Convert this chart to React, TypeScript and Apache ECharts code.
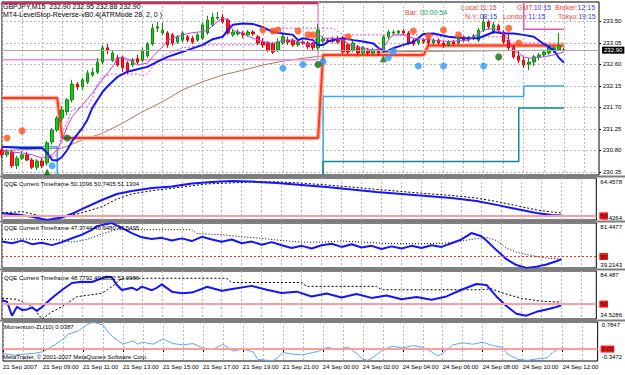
import React, { useEffect, useRef } from "react";
import * as echarts from "echarts";

const FONT = "'Liberation Sans', Arial, Helvetica, sans-serif";

// ---------- axis texts ----------
const xTickLabels = [
  "21 Sep 2007", "21 Sep 09:00", "21 Sep 11:00", "21 Sep 13:00", "21 Sep 15:00",
  "21 Sep 17:00", "21 Sep 19:00", "21 Sep 21:00", "24 Sep 00:00", "24 Sep 02:00",
  "24 Sep 04:00", "24 Sep 06:00", "24 Sep 08:00", "24 Sep 10:00", "24 Sep 12:00",
];
const priceTicks = [230.35, 230.8, 231.25, 231.7, 232.15, 232.6, 233.05, 233.5];
const priceTickLabels = ["230.35", "230.80", "231.25", "231.70", "232.15", "232.60", "233.05", "233.50"];
const currentPrice = 232.9;

// sub-window scales [min, max]
const qqe1Scale = [48.4264, 64.4578];
const qqe2Scale = [39.2143, 81.4477];
const qqe3Scale = [34.5286, 84.487];
const momScale = [-0.3472, 0.7847];

// ---------- categories (15-minute bars, plus empty right shift) ----------
const SLOTS = 120;
const categories: string[] = [];
for (let i = 0; i < SLOTS; i++) {
  const day = i < 64 ? 21 : 24;
  const mins = i < 64 ? 7 * 60 + i * 15 : (i - 64) * 15;
  const hh = String(Math.floor(mins / 60) % 24).padStart(2, "0");
  const mm = String(mins % 60).padStart(2, "0");
  categories.push(`${day} Sep ${hh}:${mm}`);
}

// ---------- GBPJPY M15 candles ----------
const opens = [
  230.81, 230.71, 230.77, 230.48, 230.64, 230.71, 230.60, 230.45, 230.58, 230.54,
  230.98, 231.23, 231.48, 231.61, 231.86, 232.19, 232.13, 232.23, 232.38, 232.44,
  232.65, 232.95, 232.69, 232.74, 232.74, 232.63, 232.59, 232.72, 232.69, 232.78,
  233.03, 233.36, 233.26, 233.26, 233.22, 233.07, 233.11, 233.18, 233.15, 233.11,
  233.15, 233.26, 233.43, 233.57, 233.59, 233.53, 233.22, 233.24, 233.26, 233.22,
  233.28, 233.18, 233.07, 233.05, 233.03, 232.90, 233.05, 233.11, 233.11, 233.01,
  233.07, 233.05, 233.05, 232.95, 233.09, 233.11, 233.13, 233.15, 233.15, 233.01,
  232.90, 232.97, 232.84, 232.90, 232.84, 232.88, 232.88, 233.18, 233.26, 233.26,
  233.30, 233.26, 233.11, 233.05, 233.11, 233.15, 233.05, 233.11, 233.05, 233.01,
  233.07, 233.05, 233.15, 233.11, 233.15, 233.11, 233.32, 233.49, 233.28, 233.41,
  233.28, 233.11, 232.97, 232.78, 232.69, 232.61, 232.65, 232.76, 232.80, 232.84,
  232.90, 232.90, 232.90,
];
const closes = [
  230.71, 230.77, 230.48, 230.64, 230.71, 230.60, 230.45, 230.58, 230.48, 230.96,
  231.23, 231.48, 231.65, 231.86, 232.19, 232.13, 232.28, 232.42, 232.44, 232.65,
  232.95, 232.90, 232.84, 232.59, 232.53, 232.48, 232.69, 232.65, 232.90, 233.03,
  233.36, 233.39, 233.32, 233.01, 233.05, 233.18, 233.26, 233.11, 233.07, 233.22,
  233.43, 233.53, 233.59, 233.59, 233.49, 233.26, 233.28, 233.28, 233.22, 233.28,
  233.24, 233.05, 233.01, 232.90, 232.86, 233.07, 233.18, 233.07, 233.01, 233.07,
  233.05, 232.97, 232.95, 233.32, 233.13, 233.10, 233.09, 233.07, 232.86, 232.86,
  233.05, 232.84, 232.95, 232.84, 232.90, 232.84, 233.18, 233.28, 233.28, 233.30,
  233.26, 233.05, 233.03, 233.11, 233.07, 233.05, 233.11, 233.05, 233.01, 233.07,
  233.03, 233.15, 233.11, 233.15, 233.20, 233.32, 233.49, 233.39, 233.43, 233.32,
  233.07, 232.95, 232.76, 232.69, 232.59, 232.65, 232.76, 232.80, 232.86, 232.97,
  232.95, 232.99, 232.90,
];
const lows = [
  230.64, 230.66, 230.43, 230.41, 230.60, 230.58, 230.41, 230.39, 230.43, 230.48,
  230.92, 231.19, 231.40, 231.54, 231.81, 232.07, 232.07, 232.19, 232.34, 232.40,
  232.61, 232.82, 232.65, 232.55, 232.44, 232.40, 232.55, 232.61, 232.65, 232.74,
  232.99, 233.28, 233.22, 232.95, 232.99, 233.03, 233.07, 233.07, 233.03, 233.07,
  233.11, 233.22, 233.39, 233.53, 233.45, 233.22, 233.18, 233.20, 233.15, 233.18,
  233.20, 233.01, 232.95, 232.86, 232.82, 232.86, 233.01, 233.01, 232.97, 232.97,
  233.01, 232.92, 232.90, 232.90, 233.05, 233.07, 233.05, 233.03, 232.82, 232.82,
  232.86, 232.80, 232.80, 232.80, 232.80, 232.78, 232.84, 233.13, 233.22, 233.24,
  233.22, 233.01, 232.99, 233.01, 233.03, 232.99, 233.01, 233.01, 232.95, 232.97,
  232.99, 233.01, 233.07, 233.07, 233.11, 233.07, 233.28, 233.34, 233.24, 233.28,
  233.03, 232.90, 232.72, 232.63, 232.53, 232.48, 232.57, 232.69, 232.76, 232.80,
  232.84, 232.88, 232.88,
];
const highs = [
  230.87, 230.83, 230.81, 230.69, 230.79, 230.77, 230.64, 230.62, 230.64, 231.00,
  231.27, 231.52, 231.73, 231.90, 232.28, 232.23, 232.32, 232.48, 232.53, 232.74,
  233.01, 233.03, 232.90, 232.80, 232.78, 232.67, 232.74, 232.80, 232.95, 233.07,
  233.45, 233.49, 233.47, 233.30, 233.26, 233.22, 233.30, 233.22, 233.20, 233.26,
  233.47, 233.62, 233.68, 233.70, 233.66, 233.57, 233.32, 233.34, 233.30, 233.32,
  233.32, 233.22, 233.15, 233.09, 233.07, 233.15, 233.26, 233.18, 233.15, 233.11,
  233.11, 233.09, 233.07, 233.45, 233.20, 233.15, 233.18, 233.20, 233.20, 233.05,
  233.09, 233.01, 232.99, 232.95, 232.95, 232.92, 233.22, 233.32, 233.32, 233.32,
  233.34, 233.30, 233.15, 233.15, 233.15, 233.20, 233.15, 233.15, 233.09, 233.11,
  233.11, 233.20, 233.20, 233.20, 233.24, 233.36, 233.64, 233.53, 233.49, 233.45,
  233.32, 233.26, 233.01, 232.90, 232.76, 232.74, 232.80, 232.84, 232.90, 233.01,
  232.99, 233.26, 232.95,
];

// ---------- main-window indicator lines [bar, price] ----------
const maBlue = [
  [0, 230.88], [4, 230.85], [8, 230.85], [9, 230.75], [10, 230.6], [11, 230.59], [12, 230.67],
  [13, 230.81], [14, 231.0], [16, 231.27], [17, 231.44], [18, 231.69], [20, 232.02], [21, 232.14],
  [23, 232.34], [25, 232.45], [27, 232.5], [29, 232.55], [31, 232.66], [33, 232.76], [35, 232.83],
  [37, 232.9], [40, 233.01], [42, 233.13], [44, 233.18], [45, 233.32], [46, 233.43], [48, 233.46],
  [50, 233.45], [52, 233.38], [54, 233.28], [56, 233.25], [58, 233.22], [59, 233.11], [60, 233.15],
  [62, 233.11], [63, 233.01], [64, 233.01], [65, 233.08], [66, 233.11], [68, 233.15], [70, 233.11],
  [72, 233.08], [74, 233.04], [75, 232.95], [76, 232.88], [77, 232.89], [78, 232.94], [80, 233.01],
  [82, 233.07], [84, 233.24], [86, 233.25], [89, 233.18], [92, 233.15], [95, 233.15], [98, 233.28],
  [100, 233.25], [102, 233.25], [104, 233.22], [106, 233.18], [108, 233.03], [110, 232.9],
  [111, 232.74], [112, 232.64],
];
const maViolet = [
  [0, 230.78], [4, 230.75], [6, 230.71], [8, 230.64], [10, 230.71], [11, 230.81], [12, 231.02],
  [13, 231.3], [14, 231.51], [16, 231.75], [18, 232.0], [20, 232.28], [22, 232.55], [23, 232.73],
  [24, 232.76], [26, 232.66], [27, 232.59], [29, 232.63], [30, 232.76], [32, 232.97], [33, 233.11],
  [34, 233.15], [37, 233.25], [40, 233.29], [41, 233.32], [43, 233.5], [44, 233.57], [45, 233.53],
  [46, 233.32], [48, 233.25], [50, 233.15], [52, 233.08], [54, 233.04], [56, 233.11], [58, 233.11],
  [60, 233.04], [62, 233.01], [63, 233.25], [64, 233.15], [66, 233.15], [68, 233.11], [70, 232.97],
  [72, 232.94], [74, 232.9], [76, 232.94], [77, 233.11], [78, 233.22], [80, 233.22], [82, 233.15],
  [86, 233.11], [89, 233.08], [93, 233.11], [96, 233.32], [98, 233.36], [100, 233.25], [101, 233.11],
  [102, 232.9], [104, 232.76], [105, 232.73], [108, 232.76], [110, 232.8], [112, 232.86],
];
const maBrown = [
  [0, 230.8], [12, 230.85], [16, 231.02], [20, 231.16], [24, 231.37], [28, 231.61], [32, 231.82],
  [36, 232.07], [40, 232.24], [44, 232.38], [48, 232.48], [52, 232.59], [56, 232.67], [60, 232.73],
  [64, 232.78], [68, 232.81], [72, 232.83], [76, 232.85], [80, 232.87], [90, 232.88], [100, 232.89],
  [112, 232.9],
];
const bandLower = [
  [9, 230.64], [11, 230.71], [12, 231.17], [14, 231.65], [17, 231.72], [18, 231.88], [19, 232.19],
  [20, 232.34], [22, 232.4], [27, 232.4], [28, 232.36], [29, 232.4], [30, 232.55], [32, 232.76],
  [33, 232.83], [36, 232.95], [41, 233.01], [55, 233.01],
];
const bandUpper = [
  [55, 233.36], [66, 233.36], [68, 233.22], [84, 233.22], [88, 233.18], [100, 233.18],
  [101, 233.05], [112, 233.05],
];
const levelStop = [
  [0, 231.9], [11, 231.9], [12, 231.06], [63, 231.06], [64, 232.8], [84, 232.8], [85, 233.0], [112, 233.0],
];
const upperStopLeft = [[0, 233.88], [63, 233.88]];
const upperStopRight = [[104, 233.95], [104, 233.34], [112, 233.34]];
const pinkLevel = [[0, 232.7], [63, 232.7], [63, 233.95]];
const cyanLeft = [[0, 230.88], [11, 230.88], [11, 230.1]];
const cyanRight = [[64, 230.1], [64, 231.93], [104, 231.93], [104, 232.15], [112, 232.15]];
const tealRight = [[64, 230.1], [64, 230.57], [103, 230.57], [103, 231.69], [112, 231.69]];

// signals [bar, price]
const sellDots = [
  [1, 231.06], [4, 231.21], [52, 233.32], [54, 233.3], [55, 233.32], [59, 233.3], [61, 233.22],
  [62, 233.22], [69, 233.18], [82, 233.3], [85, 233.2], [88, 233.32], [91, 233.22], [101, 233.36],
  [103, 233.05],
];
const buyDots = [
  [10, 230.48], [56, 232.52], [60, 232.6], [64, 232.66], [77, 232.74], [78, 232.87], [83, 232.57],
  [88, 232.57], [96, 232.57],
];
const greenCircles = [[13, 231.06], [63, 232.6], [99, 232.76]];
const greenArrows = [[9, 230.35], [76, 232.72]];

// ---------- sub windows [bar, value] ----------
const qqe1Fast = [
  [0, 51.0], [3, 50.5], [6, 49.7], [9, 48.43], [12, 49.4], [14, 50.8], [16, 52.6], [20, 56.06],
  [23, 58.35], [26, 59.5], [30, 60.6], [34, 61.2], [38, 62.36], [42, 62.93], [46, 63.31], [50, 63.12],
  [55, 62.55], [60, 61.8], [65, 61.0], [70, 60.07], [75, 59.1], [80, 58.35], [85, 57.6], [90, 56.8],
  [95, 55.7], [99, 54.2], [103, 52.6], [107, 51.1], [110, 50.3], [112, 50.11],
];
const qqe1Slow = [
  [0, 51.2], [4, 51.6], [8, 49.9], [11, 49.6], [14, 50.3], [16, 51.2], [20, 53.5], [23, 56.4],
  [26, 58.35], [30, 59.6], [33, 60.3], [36, 61.0], [41, 62.2], [46, 62.6], [50, 62.9], [55, 63.0],
  [60, 62.5], [65, 61.8], [70, 61.0], [75, 60.1], [80, 59.3], [85, 58.5], [90, 57.8], [95, 56.8],
  [99, 55.5], [103, 53.9], [107, 52.3], [110, 51.5], [112, 51.13],
];
const qqe2Fast = [
  [0, 64.0], [2, 62.5], [4, 64.9], [6, 61.6], [8, 63.0], [10, 60.7], [12, 63.5], [14, 67.1], [16, 70.5],
  [18, 75.0], [19, 78.5], [21, 80.5], [22, 81.4], [24, 76.9], [26, 72.0], [28, 68.0], [30, 66.5],
  [32, 67.5], [34, 65.0], [36, 67.0], [38, 64.5], [40, 68.5], [42, 66.0], [44, 63.8], [46, 66.0],
  [48, 62.5], [50, 64.0], [52, 61.0], [54, 63.5], [56, 60.5], [58, 58.0], [60, 60.0], [62, 57.5],
  [64, 60.5], [66, 62.0], [68, 59.0], [70, 61.5], [72, 58.5], [74, 60.0], [76, 57.0], [78, 59.5],
  [80, 57.5], [82, 60.0], [84, 58.0], [86, 60.5], [88, 59.0], [90, 62.5], [92, 66.0], [94, 72.0],
  [96, 69.0], [97, 65.0], [99, 56.0], [101, 47.5], [103, 42.0], [105, 39.3], [107, 40.5], [109, 42.5],
  [111, 45.5], [112, 47.37],
];
const qqe2Slow = [
  [0, 66.0], [4, 66.5], [8, 66.0], [12, 65.5], [14, 63.5], [17, 66.0], [20, 71.0], [23, 75.5],
  [26, 75.2], [38, 75.2], [39, 71.5], [44, 70.5], [48, 68.5], [52, 67.0], [56, 65.0], [60, 63.5],
  [64, 63.5], [68, 64.5], [72, 63.5], [76, 62.5], [80, 62.0], [84, 62.0], [88, 62.5], [90, 63.0],
  [94, 66.0], [97, 68.0], [99, 65.0], [101, 58.0], [103, 54.0], [106, 51.0], [109, 48.5], [112, 47.55],
];
const qqe3Fast = [
  [0, 54.0], [1, 52.5], [2, 38.0], [3, 47.3], [4, 44.0], [5, 44.5], [6, 46.5], [7, 43.0], [8, 47.0],
  [10, 56.4], [12, 64.7], [14, 72.0], [16, 73.4], [18, 73.0], [20, 76.9], [21, 78.6], [22, 78.0],
  [23, 69.9], [24, 64.7], [26, 67.1], [27, 64.5], [28, 68.2], [30, 64.5], [31, 67.0], [32, 70.6],
  [34, 63.0], [36, 61.3], [38, 62.0], [40, 65.8], [41, 68.0], [44, 64.0], [47, 66.5], [50, 69.0],
  [53, 65.0], [56, 61.5], [59, 63.0], [62, 58.0], [65, 61.0], [68, 57.0], [71, 60.5], [74, 56.5],
  [77, 59.0], [80, 55.0], [83, 57.5], [86, 54.5], [89, 58.0], [92, 65.0], [95, 71.0], [97, 70.0],
  [99, 58.0], [101, 48.0], [103, 40.0], [105, 38.0], [107, 42.0], [109, 44.5], [111, 47.0], [112, 48.78],
];
const qqe3Slow = [
  [0, 56.1], [3, 55.0], [6, 48.0], [8, 34.6], [10, 42.0], [12, 47.3], [15, 57.7], [20, 61.3],
  [22, 68.1], [24, 76.9], [45, 76.9], [46, 72.5], [60, 72.5], [61, 68.5], [75, 68.5], [76, 65.0],
  [96, 65.0], [98, 66.0], [100, 62.0], [104, 56.0], [108, 53.0], [112, 52.1],
];
const momentum = [
  [0, -0.13], [2, -0.18], [4, -0.15], [6, -0.13], [8, -0.08], [10, 0.09], [12, 0.29], [13, 0.43],
  [15, 0.52], [17, 0.72], [18, 0.78], [20, 0.7], [21, 0.5], [22, 0.35], [24, 0.14], [26, 0.24],
  [27, 0.14], [28, 0.2], [30, 0.14], [32, 0.29], [34, 0.16], [36, 0.12], [38, 0.16], [40, 0.03],
  [42, -0.01], [44, 0.14], [46, -0.06], [48, 0.0], [50, -0.08], [51, -0.3], [53, -0.33], [54, -0.345],
  [55, -0.25], [56, -0.1], [58, -0.15], [60, -0.17], [62, -0.1], [63, -0.07], [65, 0.05], [67, -0.02],
  [69, 0.06], [71, -0.15], [72, -0.3], [73, -0.33], [74, -0.25], [76, -0.02], [78, 0.08], [80, 0.03],
  [82, 0.1], [84, 0.05], [86, -0.1], [87, -0.2], [88, -0.12], [90, 0.12], [92, 0.18], [94, 0.14],
  [96, 0.2], [98, 0.1], [100, 0.05], [101, -0.15], [103, -0.3], [105, -0.33], [107, -0.28],
  [109, -0.25], [110, -0.1], [111, 0.0], [112, 0.0387],
];

// ---------- layout ----------
const panels = [
  { top: 2, height: 173 },
  { top: 178, height: 42 },
  { top: 223, height: 45 },
  { top: 271, height: 48 },
  { top: 322, height: 39 },
];
const separatorsY = [175.5, 220.5, 268.5, 319.5];

function lineSeries(grid: number, data: number[][], color: string, width: number, type: any = "solid", z = 3) {
  return {
    type: "line", xAxisIndex: grid, yAxisIndex: grid, data, symbol: "none", showSymbol: false,
    lineStyle: { color, width, type }, z, silent: true, animation: false, clip: true,
  };
}

function levelLine(value: number, text: string, color: string, width: number, type: any) {
  return {
    symbol: "none", silent: true, animation: false,
    data: [{ yAxis: value }],
    lineStyle: { color, width, type },
    label: {
      show: true, position: "end", formatter: text, distance: 3,
      backgroundColor: "#ff1a1a", color: "#000", fontSize: 6, fontFamily: FONT, padding: [1, 1, 0, 1],
    },
  };
}

function panelYAxis(gi: number, scale: number[], padTop: number, padBot: number) {
  const lo = scale[0], hi = scale[1];
  const base = { fontSize: 6, fontFamily: FONT, color: "#000" };
  return {
    type: "value", gridIndex: gi, position: "right", min: lo, max: hi,
    axisLine: { show: false }, axisTick: { show: false }, splitLine: { show: false },
    axisLabel: {
      customValues: [lo, hi], margin: 4, ...base,
      formatter: (v: any) => (Math.abs(Number(v) - hi) < 1e-7 ? `{t|${String(hi)}}` : `{b|${String(lo)}}`),
      rich: { t: { ...base, padding: [padTop, 0, 0, 0] }, b: { ...base, padding: [0, 0, padBot, 0] } },
    },
  };
}

function priceLabel(v: any) {
  const n = Number(v);
  const i = priceTicks.findIndex((p) => Math.abs(p - n) < 1e-6);
  return `{p|${i >= 0 ? priceTickLabels[i] : n.toFixed(2)}}`;
}

function buildOption() {
  const ohlc = opens.map((o, i) => [o, closes[i], lows[i], highs[i]]);
  const txt = (x: number, y: number, text: string, size = 7, fill = "#000") => ({
    type: "text", x, y, z: 100, silent: true,
    style: { text, fill, fontSize: size, fontFamily: FONT, verticalAlign: "middle" },
  });
  const clock = (x: number, y: number, name: string, time: string, timeColor = "#3c3cd8") => ({
    type: "text", x, y, z: 100, silent: true,
    style: {
      text: `{n|${name}}{t|${time}}`, verticalAlign: "middle", fontSize: 7, fontFamily: FONT,
      rich: {
        n: { fill: "#e8463c", fontSize: 7, fontFamily: FONT },
        t: { fill: timeColor, fontSize: 7, fontFamily: FONT },
      },
    },
  });
  const axisFont = { fontSize: 6, fontFamily: FONT, color: "#000" };

  return {
    animation: false,
    backgroundColor: "#ffffff",
    textStyle: { fontFamily: FONT },
    grid: panels.map((p) => ({
      left: 2, right: 26, top: p.top, height: p.height, show: true,
      borderColor: "#000", borderWidth: 1, backgroundColor: "#fff",
    })),
    xAxis: panels.map((_, i) => ({
      type: "category", gridIndex: i, data: categories, boundaryGap: false,
      axisLine: { show: false },
      axisTick: i === 4
        ? { show: true, interval: (idx: number) => idx % 8 === 0, length: 3, lineStyle: { color: "#000" } }
        : { show: false },
      axisLabel: i === 4
        ? {
            show: true, interval: (idx: number) => idx % 8 === 0, align: "left", margin: 3,
            ...axisFont,
            formatter: (_v: string, idx: number) => (idx % 8 === 0 ? xTickLabels[idx / 8] ?? "" : ""),
          }
        : { show: false },
      splitLine: {
        show: true, interval: (idx: number) => idx % 4 === 0,
        lineStyle: { color: "#b9b9b9", width: 1, type: [2, 2] },
      },
    })),
    yAxis: [
      {
        type: "value", gridIndex: 0, position: "right", min: 230.287, max: 233.908,
        axisLine: { show: false },
        axisTick: { show: true, customValues: priceTicks, length: 2, lineStyle: { color: "#000" } },
        axisLabel: {
          customValues: priceTicks, margin: 4, ...axisFont,
          formatter: priceLabel,
          rich: { p: { ...axisFont } },
        },
        splitLine: { show: true, lineStyle: { color: "#b9b9b9", width: 1, type: [2, 2] } },
      },
      panelYAxis(1, qqe1Scale, 8, 5),
      panelYAxis(2, qqe2Scale, 8, 6),
      panelYAxis(3, qqe3Scale, 7, 9),
      panelYAxis(4, momScale, 6, 8),
    ],
    series: [
      // main window background lines
      lineSeries(0, cyanLeft, "#39a9e6", 1.5, "solid", 1),
      lineSeries(0, cyanRight, "#39a9e6", 1.5, "solid", 1),
      lineSeries(0, tealRight, "#0a8c8c", 1.5, "solid", 1),
      lineSeries(0, maBrown, "#b07860", 1, "solid", 1),
      lineSeries(0, pinkLevel, "#f28ad6", 1.5, "solid", 1),
      lineSeries(0, upperStopLeft, "#d81e5b", 2, "solid", 1),
      lineSeries(0, upperStopRight, "#e058b0", 1.5, "solid", 1),
      lineSeries(0, levelStop, "#ffb3a3", 4.5, "solid", 1),
      lineSeries(0, levelStop, "#ff3a1c", 2, "solid", 1),
      lineSeries(0, bandLower, "#ee44ee", 1, [2, 2], 1),
      lineSeries(0, bandUpper, "#ee44ee", 1, [2, 2], 1),
      {
        type: "candlestick", xAxisIndex: 0, yAxisIndex: 0, data: ohlc, barWidth: 3, z: 2,
        silent: true, animation: false,
        itemStyle: {
          color: "#1fc41f", color0: "#ff1c1c", borderColor: "#0b8f0b", borderColor0: "#e00000", borderWidth: 1,
        },
        markLine: {
          symbol: "none", silent: true, animation: false,
          data: [{ yAxis: currentPrice }],
          lineStyle: { color: "#a8a8a8", width: 1, type: "solid" },
          label: {
            show: true, position: "end", distance: 3, formatter: currentPrice.toFixed(2),
            backgroundColor: "#000", color: "#fff", fontSize: 6, fontFamily: FONT, padding: [1, 2, 0, 2],
          },
        },
      },
      lineSeries(0, maBlue, "#1414ff", 2, "solid", 4),
      lineSeries(0, maViolet, "#c23ee0", 1, "solid", 4),
      {
        type: "scatter", xAxisIndex: 0, yAxisIndex: 0, data: sellDots, symbol: "circle", symbolSize: 7,
        itemStyle: { color: "#ff5016" }, z: 6, silent: true,
      },
      {
        type: "scatter", xAxisIndex: 0, yAxisIndex: 0, data: buyDots, symbol: "circle", symbolSize: 7,
        itemStyle: { color: "#2f9bff" }, z: 6, silent: true,
      },
      {
        type: "scatter", xAxisIndex: 0, yAxisIndex: 0, data: greenCircles, symbol: "circle", symbolSize: 7,
        itemStyle: { color: "#0b6e0b" }, z: 6, silent: true,
      },
      {
        type: "scatter", xAxisIndex: 0, yAxisIndex: 0, data: greenArrows, symbol: "triangle", symbolSize: 7,
        itemStyle: { color: "#0b6e0b" }, z: 6, silent: true,
      },
      // QQE 1
      lineSeries(1, qqe1Slow, "#000", 1, [2, 2], 3),
      { ...lineSeries(1, qqe1Fast, "#1414ff", 2, "solid", 4), markLine: levelLine(50, "50", "#ff9d9d", 2, "solid") },
      // QQE 2
      lineSeries(2, qqe2Slow, "#000", 1, [1, 2], 3),
      { ...lineSeries(2, qqe2Fast, "#1414ff", 2, "solid", 4), markLine: levelLine(50, "50", "#ff2a2a", 1, [2, 2]) },
      // QQE 3
      lineSeries(3, qqe3Slow, "#000", 1, [2, 2], 3),
      { ...lineSeries(3, qqe3Fast, "#1414ff", 2, "solid", 4), markLine: levelLine(50, "50", "#ff9d9d", 2, "solid") },
      // Momentum
      { ...lineSeries(4, momentum, "#5aaaf5", 1, "solid", 4), markLine: levelLine(0, "0.00", "#ff9d9d", 2, "solid") },
    ],
    graphic: [
      ...separatorsY.map((y) => ({
        type: "rect", z: 90, silent: true, shape: { x: 0, y, width: 625, height: 2 }, style: { fill: "#7d7d7d" },
      })),
      txt(3, 6, "GBPJPY,M15  232.90 232.95 232.88 232.90"),
      txt(3, 14, "MT4-LevelStop-Reverse-vB0.4(ATRMode 28, 2, 0 )"),
      clock(405, 12, "Bar: ", "00:00:54", "#2a9e72"),
      clock(461, 7, "Local:", "11:15", "#d8405a"),
      clock(465, 16, "N.Y.:", "08:15"),
      clock(517, 7, "GMT:", "10:15"),
      clock(503, 16, "London:", "11:15"),
      clock(555, 7, "Broker:", "12:15"),
      clock(558, 16, "Tokyo:", "19:15"),
      txt(4, 184, "QQE Current Timeframe 50.1096 50.7405 51.1304", 6),
      txt(4, 228, "QQE Current Timeframe 47.3744 46.9480 47.5495", 6),
      txt(4, 278, "QQE Current Timeframe 48.7792 49.0852 52.0986", 6),
      txt(4, 327, "Momentum-ZL(10) 0.0387", 6),
      txt(3, 357, "MetaTrader, \u00a9 2001-2007 MetaQuotes Software Corp.", 6),
    ],
  };
}

export default function App() {
  const ref = useRef<HTMLDivElement>(null);
  useEffect(() => {
    if (!ref.current) return;
    const chart = echarts.init(ref.current, null, { renderer: "svg", width: 625, height: 375 });
    chart.setOption(buildOption() as any);
    return () => chart.dispose();
  }, []);
  return (
    <div
      ref={ref}
      style={{ position: "absolute", left: 0, top: 0, width: 625, height: 375, background: "#fff" }}
    />
  );
}
